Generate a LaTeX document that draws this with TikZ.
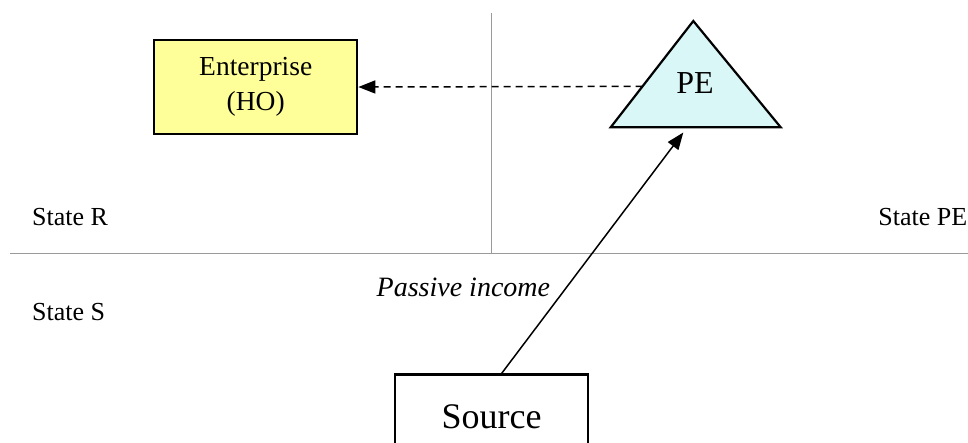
\documentclass[tikz,border=0pt]{standalone}
\usepackage{fontspec}
\setmainfont{Liberation Serif}
\usetikzlibrary{arrows.meta,calc}
\definecolor{hoyellow}{HTML}{FFFF99}
\definecolor{pecyan}{HTML}{DAF7F7}
\definecolor{bordergray}{HTML}{9A9A9A}
\tikzset{
  boundary/.style={draw=bordergray, line width=1.4pt},
  entitybox/.style={draw=black, line width=2.2pt, inner sep=0pt},
  flow/.style={draw=black, line width=1.5pt, -{Triangle[length=17pt,width=13pt]}},
  attribution/.style={flow, dash pattern=on 7pt off 5pt},
  statelabel/.style={font=\fontsize{26}{30}\selectfont, inner sep=0pt},
}
\begin{document}
\begin{tikzpicture}[x=1pt, y=-1pt]
  \useasboundingbox (0,0) rectangle (968,442);

  % state boundaries
  \coordinate (vtop) at (491.7,13);
  \coordinate (vbot) at (491.7,253.5);
  \coordinate (hleft) at (10,253.5);
  \coordinate (hright) at (968,253.5);
  \draw[boundary] (vtop) -- (vbot);
  \draw[boundary] (hleft) -- (hright);

  % state names
  \node[statelabel, anchor=base west] (stR) at (32,225) {State R};
  \node[statelabel, anchor=base west] (stS) at (32,320) {State S};
  \node[statelabel, anchor=base east] (stPE) at (967.5,225) {State PE};

  % head office
  \node[entitybox, fill=hoyellow, minimum width=203pt, minimum height=94pt,
        align=center, font=\fontsize{27.5}{35}\selectfont] (ent) at (255.7,87)
        {Enterprise\\(HO)};

  % permanent establishment
  \coordinate (peA) at (693.3,21);
  \coordinate (peL) at (610.7,127.3);
  \coordinate (peR) at (780.7,127.3);
  \filldraw[fill=pecyan, draw=black, line width=2.2pt, line join=miter] (peA) -- (peL) -- (peR) -- cycle;
  \node[font=\fontsize{32}{36}\selectfont, inner sep=0pt, anchor=base] (pe) at (695,93.3) {PE};
  \coordinate (peW) at ($(peA)!0.615!(peL)$);
  \coordinate (peS) at (683.3,132.5);

  % source of income
  \node[entitybox, minimum width=193.3pt, minimum height=84pt, anchor=north,
        font=\fontsize{36}{40}\selectfont] (src) at (491.7,373.3) {Source};

  % connectors
  \draw[attribution] (peW) -- (ent.east);
  \draw[flow] ([xshift=10pt]src.north) -- (peS)
    node[pos=0.32, anchor=base east, xshift=-9pt, inner sep=0pt,
         font=\fontsize{28}{32}\selectfont\itshape] (inc) {Passive income};
\end{tikzpicture}
\end{document}
